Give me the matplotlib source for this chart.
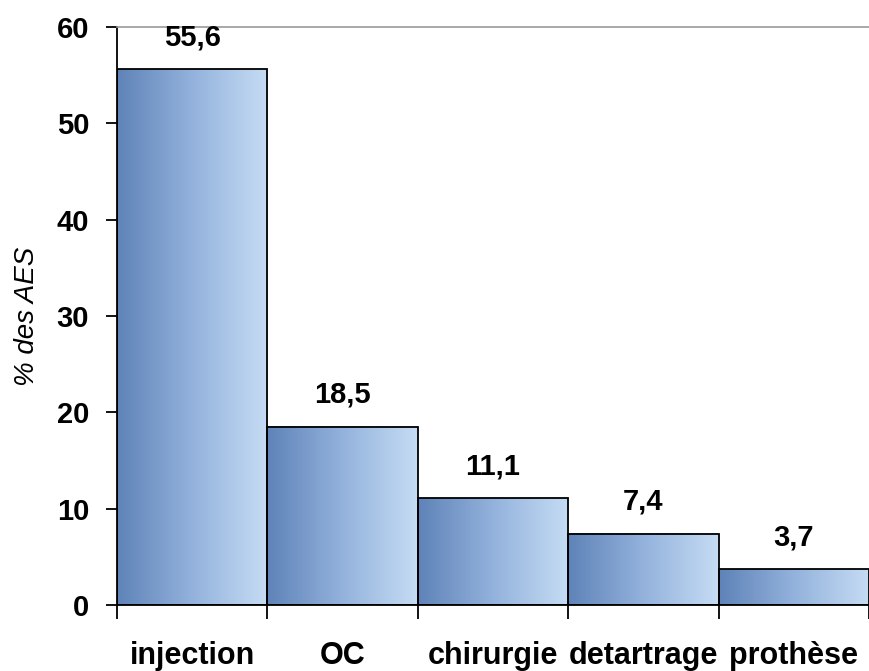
import matplotlib
matplotlib.use('Agg')
from matplotlib import pyplot as pl
from matplotlib.colors import LinearSegmentedColormap
import numpy as np

categories = ['injection', 'OC', 'chirurgie', 'detartrage', 'prothèse']
values = [55.6, 18.5, 11.1, 7.4, 3.7]
value_labels = ['55,6', '18,5', '11,1', '7,4', '3,7']

pl.rcParams['font.family'] = ['Liberation Sans', 'DejaVu Sans']

fig = pl.figure(figsize=(8.69, 6.71), dpi=100)
ax = fig.add_axes([0.1346, 0.0984, 0.8654, 0.8614])

x = np.arange(len(categories))
bars = ax.bar(x, values, width=1.0, color='none', edgecolor='black', linewidth=1.3, zorder=3)

cmap = LinearSegmentedColormap.from_list('grad', ['#5f83b8', '#93b2dc', '#c6dcf4'])
grad = np.linspace(0, 1, 256).reshape(1, -1)
for b in bars:
    x0, w, h = b.get_x(), b.get_width(), b.get_height()
    ax.imshow(grad, cmap=cmap, extent=[x0, x0 + w, 0, h], aspect='auto', zorder=2)

for b, lab in zip(bars, value_labels):
    ax.annotate(lab, (b.get_x() + b.get_width() / 2, b.get_height()),
                xytext=(0, 23), textcoords='offset points', ha='center', va='center',
                fontsize=21, fontweight='bold')

ax.set_xlim(-0.5, len(categories) - 0.5)
ax.set_ylim(0, 60)
ax.set_yticks(range(0, 61, 10))
ax.set_yticklabels([str(v) for v in range(0, 61, 10)], fontsize=21, fontweight='bold')

ax.set_xticks(np.arange(len(categories) + 1) - 0.5)
ax.set_xticklabels([])
ax.set_xticks(x, minor=True)
ax.set_xticklabels(categories, minor=True, fontsize=22, fontweight='bold')
ax.tick_params(axis='x', which='major', length=10, width=1.3, direction='out')
ax.tick_params(axis='x', which='minor', length=0, pad=26)
ax.tick_params(axis='y', length=8, width=1.3, direction='out', pad=12)

ax.set_ylabel('% des AES', fontsize=20, fontstyle='italic', labelpad=12)

ax.spines['top'].set_color('#999999')
ax.spines['top'].set_linewidth(1.2)
ax.spines['right'].set_visible(False)
ax.spines['left'].set_linewidth(1.3)
ax.spines['bottom'].set_linewidth(1.3)

fig.savefig('out.png', dpi=100)
